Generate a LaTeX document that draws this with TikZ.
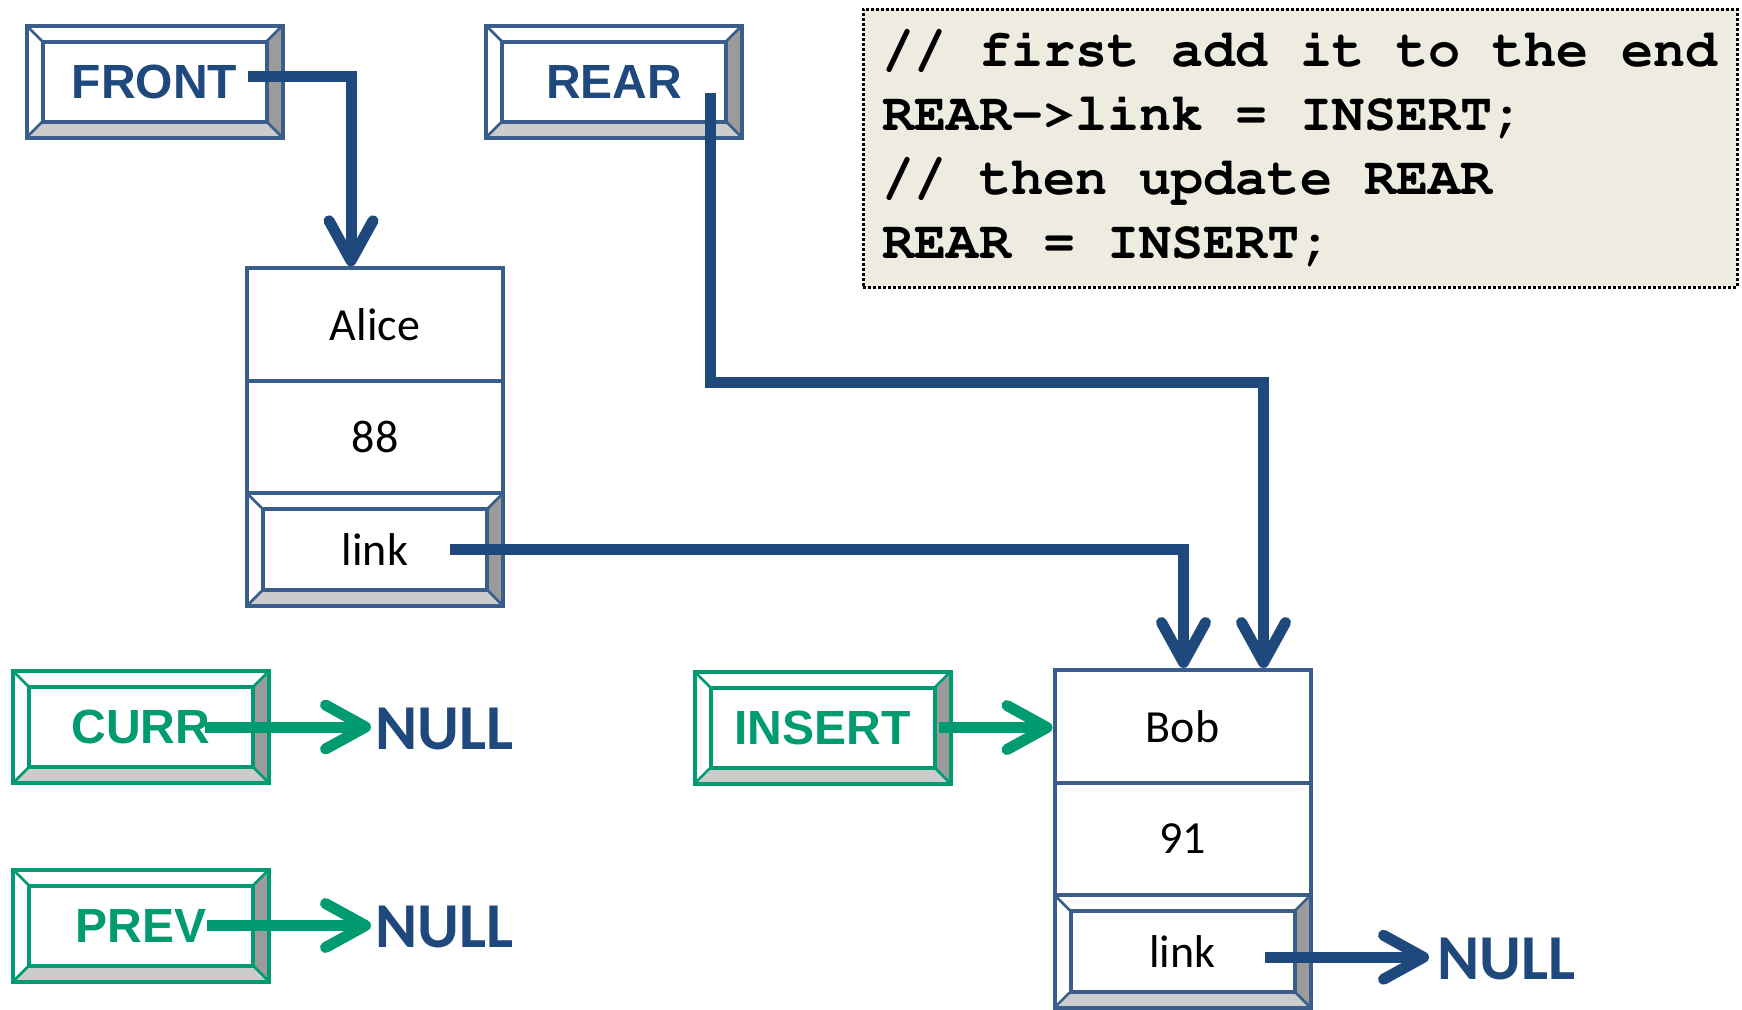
\documentclass[tikz,border=0pt]{standalone}
\usepackage[T1]{fontenc}
\usepackage{fontspec}
\setmainfont{Carlito}
\newfontfamily\keyfont{Liberation Sans}
\newcommand{\codefont}{\fontencoding{T1}\fontfamily{pcr}\fontseries{b}\fontsize{53.5}{64}\selectfont}
\usetikzlibrary{arrows.meta}

\definecolor{boxblue}{RGB}{58,94,140}
\definecolor{textblue}{RGB}{31,73,125}
\definecolor{ptrgreen}{RGB}{0,155,112}
\definecolor{bevdark}{RGB}{155,155,155}
\definecolor{bevlight}{RGB}{204,204,204}
\definecolor{codebg}{RGB}{238,236,225}

\tikzset{
  % raised "button" box: white top/left bevels, shaded right/bottom bevels
  bevel/.style={rectangle, draw=#1, line width=4pt, fill=white, inner sep=0pt,
    path picture={
      \path (path picture bounding box.north west) coordinate (pnw)
            (path picture bounding box.north east) coordinate (pne)
            (path picture bounding box.south west) coordinate (psw)
            (path picture bounding box.south east) coordinate (pse);
      \fill[bevdark] (pne) -- (pse) -- ([shift={(-16pt,16pt)}]pse)
                     -- ([shift={(-16pt,-16pt)}]pne) -- cycle;
      \fill[bevlight] (psw) -- (pse) -- ([shift={(-16pt,16pt)}]pse)
                     -- ([shift={(16pt,16pt)}]psw) -- cycle;
      \draw[#1, line width=2.5pt] (pnw) -- ++(16pt,-16pt) (pne) -- ++(-16pt,-16pt)
                                  (psw) -- ++(16pt,16pt) (pse) -- ++(-16pt,16pt);
      \draw[#1, line width=4pt] ([shift={(16pt,-16pt)}]pnw) rectangle ([shift={(-16pt,16pt)}]pse);
    }},
  keyblue/.style={bevel=boxblue, text=textblue, minimum width=256pt, minimum height=112pt,
    font=\keyfont\bfseries\fontsize{48}{56}\selectfont},
  keygreen/.style={bevel=ptrgreen, text=ptrgreen, minimum width=256pt, minimum height=112pt,
    font=\keyfont\bfseries\fontsize{48}{56}\selectfont},
  cell/.style={rectangle, draw=boxblue, line width=4pt, fill=white, inner sep=0pt,
    minimum width=256pt, minimum height=112.5pt, font=\fontsize{46}{55}\selectfont},
  linkcell/.style={bevel=boxblue, minimum width=256pt, minimum height=112.5pt,
    font=\fontsize{46}{55}\selectfont},
  nulltext/.style={anchor=west, inner sep=0pt, text=textblue,
    font=\bfseries\fontsize{64}{70}\selectfont},
  codebox/.style={rectangle, draw=black, line width=3pt, dash pattern=on 3pt off 2pt,
    fill=codebg, minimum width=874pt, minimum height=278pt,
    inner xsep=12pt, align=left, font=\codefont},
  blarrow/.style={draw=textblue, line width=11pt, -{Straight Barb[length=40pt, width=44pt, round]}},
  grarrow/.style={draw=ptrgreen, line width=11pt, -{Straight Barb[length=40pt, width=44pt, round]}}
}

\begin{document}
\begin{tikzpicture}[x=1pt,y=-1pt]
\useasboundingbox (0,0) rectangle (1742,1009);

% pointer variables
\node[keyblue] (front) at (154.5,81.5) {FRONT};
\node[keyblue] (rear) at (614,81.5) {REAR};
\node[keygreen] (curr) at (141,727) {CURR};
\node[keygreen] (prev) at (141,925.5) {PREV};
\node[keygreen] (insert) at (822.5,727.5) {INSERT};

% code comment (fixed-width spaces, as in a listing)
\node[codebox] (code) at (1300,148) {\spaceskip=0pt\xspaceskip=0pt\relax
  // first add it to the end\\REAR->link = INSERT;\\// then update REAR\\REAR = INSERT;};

% first list node
\node[cell] (alicename) at (375,324.5) {Alice};
\node[cell] (alicedata) at (375,437) {88};
\node[linkcell] (alicelink) at (375,549.5) {link};

% new node
\node[cell] (bobname) at (1182.5,726.25) {Bob};
\node[cell] (bobdata) at (1182.5,838.75) {91};
\node[linkcell] (boblink) at (1182.5,951.25) {link};

% NULL targets
\node[nulltext] (currnull) at (375,729) {NULL};
\node[nulltext] (prevnull) at (375,927) {NULL};
\node[nulltext] (boblinknull) at (1437,959) {NULL};

% connector end points
\coordinate (rearstart) at ([xshift=96pt,yshift=-11pt]rear.center);
\coordinate (rearin) at ([xshift=81pt]bobname.north);
\coordinate (linkin) at ([xshift=1pt]bobname.north);
\coordinate (bobout) at ([xshift=82pt,yshift=-6pt]boblink.center);
\coordinate (insstart) at ([xshift=116pt]insert.center);
\coordinate (currstart) at ([xshift=64pt]curr.center);
\coordinate (prevstart) at ([xshift=66pt]prev.center);

% connectors
\draw[blarrow] ([xshift=93pt,yshift=5pt]front.center) -| ([xshift=-24pt]alicename.north);
\draw[blarrow] (rearstart) |- (rearin |- alicename.south) -- (rearin);
\draw[blarrow] ([xshift=75pt]alicelink.center) -| (linkin);
\draw[blarrow, shorten >=8pt] (bobout) -- (bobout -| boblinknull.west);
\draw[grarrow] (insstart) -- (insstart -| bobname.west);
\draw[grarrow, shorten >=4pt] (currstart) -- (currstart -| currnull.west);
\draw[grarrow, shorten >=4pt] (prevstart) -- (prevstart -| prevnull.west);
\end{tikzpicture}
\end{document}
